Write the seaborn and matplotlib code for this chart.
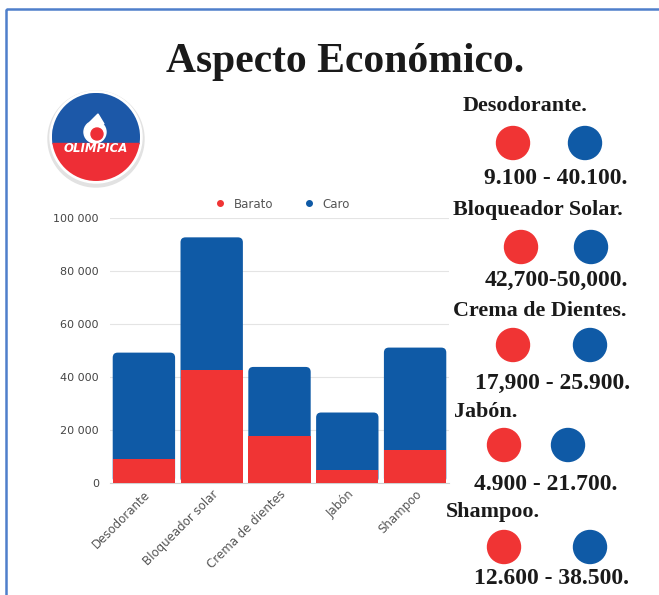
import matplotlib
matplotlib.use("Agg")
import matplotlib.pyplot as plt
import seaborn as sns
import pandas as pd
import numpy as np
from matplotlib.patches import Circle, Rectangle, Polygon, FancyBboxPatch
from matplotlib.lines import Line2D
from matplotlib.ticker import FuncFormatter

# ---------------- data ----------------
categories = ["Desodorante", "Bloqueador solar", "Crema de dientes", "Jabón", "Shampoo"]
barato = [9100, 42700, 17900, 4900, 12600]
caro = [40100, 50000, 25900, 21700, 38500]
series_names = ["Barato", "Caro"]
yticks = [0, 20000, 40000, 60000, 80000, 100000]

panel_titles = ["Desodorante.", "Bloqueador Solar.", "Crema de Dientes.", "Jabón.", "Shampoo."]
panel_values = ["9.100 - 40.100.", "42,700-50,000.", "17,900 - 25.900.", "4.900 - 21.700.", "12.600 - 38.500."]

RED = "#F03434"
BLUE = "#0F5AA6"

df = pd.DataFrame({"cat": categories, "barato": barato, "caro": caro})
df["total"] = df["barato"] + df["caro"]

W, H = 659, 595
fig = plt.figure(figsize=(W / 100, H / 100), dpi=100)
fig.patch.set_facecolor("white")

def fx(x):
    return x / W

def fy(y):
    return 1 - y / H

# ---------------- bar chart ----------------
ax_left, ax_right, ax_top, ax_bot = 110, 449, 218, 483
ax = fig.add_axes([fx(ax_left), fy(ax_bot), (ax_right - ax_left) / W, (ax_bot - ax_top) / H])
sns.barplot(data=df, x="cat", y="total", color=BLUE, width=0.92, ax=ax,
            saturation=1, zorder=2)
n_blue = len(ax.patches)
sns.barplot(data=df, x="cat", y="barato", color=RED, width=0.92, ax=ax,
            saturation=1, zorder=3)
ax.set_ylim(0, 100000)
ax.set_xlim(-0.5, len(categories) - 0.5)

# round the top corners of the stacked bars
x_per_px = len(categories) / (ax_right - ax_left)
y_per_px = 100000 / (ax_bot - ax_top)
for p in list(ax.patches[:n_blue]):
    x, y = p.get_x(), p.get_y()
    w, h = p.get_width(), p.get_height()
    fb = FancyBboxPatch((x, y), w, h,
                        boxstyle=f"round,pad=0,rounding_size={5 * x_per_px}",
                        mutation_aspect=y_per_px / x_per_px,
                        fc=BLUE, ec="none", zorder=2)
    p.remove()
    ax.add_patch(fb)

ax.set_yticks(yticks)
ax.yaxis.set_major_formatter(FuncFormatter(lambda v, p: f"{int(v):,}".replace(",", " ")))
ax.grid(axis="y", color="#e4e4e4", lw=0.8, zorder=0)
ax.set_axisbelow(True)
for s in ["top", "right", "left"]:
    ax.spines[s].set_visible(False)
ax.spines["bottom"].set_color("#d0d0d0")
ax.tick_params(axis="both", length=0, labelsize=8, colors="#444444")
ax.tick_params(axis="y", pad=8)
ax.set_xticks(range(len(categories)))
ax.set_xticklabels(categories, rotation=45, ha="right", rotation_mode="anchor",
                   fontsize=8.5, color="#555555")
ax.set_xlabel("")
ax.set_ylabel("")

handles = [Line2D([], [], marker="o", ls="", color=c, markersize=4) for c in (RED, BLUE)]
fig.legend(handles, series_names, loc="center", bbox_to_anchor=(fx(279), fy(204)),
           ncol=2, frameon=False, fontsize=8.5, handletextpad=0.2, columnspacing=2.0,
           labelcolor="#555555")

# ---------------- overlay (title, logo, side panel) ----------------
ov = fig.add_axes([0, 0, 1, 1], zorder=5)
ov.set_xlim(0, W)
ov.set_ylim(H, 0)
ov.axis("off")
ov.patch.set_alpha(0)

# frame
ov.add_patch(Rectangle((6, 9), W + 20, H + 20, fill=False, ec="#4F7FCB", lw=1.8))

ov.text(345, 62, "Aspecto Económico.", family="Liberation Serif", weight="bold",
        fontsize=30, ha="center", va="center", color="#1a1a1a")

# logo
cx, cy, r = 96, 137, 44
ov.add_patch(Circle((cx, cy + 2), r + 4, color="#e2e2e2", zorder=1))
ov.add_patch(Circle((cx, cy), r + 2, color="white", zorder=2))
clip = Circle((cx, cy), r, transform=ov.transData)
top = Rectangle((cx - r, cy - r), 2 * r, r + 6, color="#1C58A8", zorder=3)
bot = Rectangle((cx - r, cy + 6), 2 * r, r, color="#EE2E36", zorder=3)
for p in (top, bot):
    ov.add_patch(p)
    p.set_clip_path(clip)
# flame
ov.add_patch(Circle((95, 132), 11, color="white", zorder=4))
ov.add_patch(Circle((97, 134), 6, color="#EE2E36", zorder=5))
ov.add_patch(Polygon([(90, 122), (98, 114), (104, 124)], color="white", zorder=4))
ov.text(96, 149, "OLIMPICA", color="white", weight="bold", style="italic",
        fontsize=8.5, ha="center", va="center", zorder=6)

# side panel
title_pos = [(463, 106), (453, 210), (453, 311), (454, 412), (446, 512)]
circle_pos = [((513, 143), (585, 143)), ((521, 247), (591, 247)),
              ((513, 345), (590, 345)), ((504, 445), (568, 445)),
              ((504, 547), (590, 547))]
value_pos = [(484, 178), (485, 280), (475, 383), (474, 484), (474, 578)]
for t, (tx, ty), ((rx, ry), (bx, by)), v, (vx, vy) in zip(
        panel_titles, title_pos, circle_pos, panel_values, value_pos):
    ov.text(tx, ty, t, family="Liberation Serif", weight="bold", fontsize=15.8,
            ha="left", va="center", color="#1a1a1a")
    ov.add_patch(Circle((rx, ry), 16.5, color=RED))
    ov.add_patch(Circle((bx, by), 16.5, color=BLUE))
    ov.text(vx, vy, v, family="Liberation Serif", weight="bold", fontsize=17,
            ha="left", va="center", color="#1a1a1a")

fig.savefig("out.png", dpi=100, facecolor="white")
